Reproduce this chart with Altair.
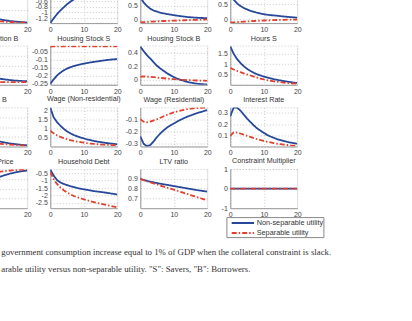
import altair as alt
import pandas as pd

steps = list(range(21))
SERIES = ["Non-separable utility", "Separable utility"]
BLUE = "#27489a"
RED = "#e2402c"

# ---- impulse responses (deviations), quarters 0..20 ----
# row 1
r1a_ns = [1.4, 1.15, 0.95, 0.78, 0.64, 0.53, 0.44, 0.36, 0.3, 0.25, 0.21, 0.17, 0.14, 0.115, 0.095, 0.078, 0.064, 0.052, 0.042, 0.034, 0.026]
r1a_sep = [0.6, 0.49, 0.41, 0.34, 0.28, 0.23, 0.19, 0.16, 0.13, 0.11, 0.09, 0.08, 0.067, 0.056, 0.047, 0.04, 0.034, 0.029, 0.025, 0.021, 0.018]
r1b_ns = [-1.37, -1.21, -1.06, -0.93, -0.82, -0.71, -0.62, -0.54, -0.47, -0.41, -0.36, -0.31, -0.27, -0.23, -0.2, -0.17, -0.15, -0.13, -0.11, -0.095, -0.08]
r1b_sep = [-0.2, -0.19, -0.18, -0.17, -0.16, -0.15, -0.14, -0.13, -0.12, -0.11, -0.1, -0.09, -0.08, -0.07, -0.065, -0.06, -0.055, -0.05, -0.045, -0.04, -0.035]
r1c_ns = [0.8, 0.62, 0.49, 0.39, 0.33, 0.29, 0.255, 0.227, 0.205, 0.185, 0.165, 0.145, 0.13, 0.115, 0.1, 0.09, 0.08, 0.072, 0.066, 0.061, 0.057]
r1c_sep = [-0.09, -0.085, -0.078, -0.07, -0.063, -0.056, -0.05, -0.044, -0.039, -0.034, -0.03, -0.025, -0.02, -0.016, -0.012, -0.008, -0.004, 0.0, 0.004, 0.008, 0.012]
r1d_ns = [0.85, 0.66, 0.54, 0.45, 0.385, 0.335, 0.29, 0.255, 0.225, 0.198, 0.176, 0.16, 0.147, 0.135, 0.125, 0.112, 0.1, 0.09, 0.08, 0.07, 0.062]
r1d_sep = [-0.1, -0.095, -0.088, -0.08, -0.072, -0.064, -0.057, -0.05, -0.044, -0.038, -0.033, -0.028, -0.024, -0.02, -0.016, -0.013, -0.01, -0.007, -0.005, -0.003, -0.001]
# row 2
cons_b_ns = [0.9, 0.75, 0.63, 0.53, 0.45, 0.39, 0.34, 0.3, 0.26, 0.23, 0.2, 0.18, 0.155, 0.14, 0.13, 0.12, 0.11, 0.105, 0.1, 0.095, 0.09]
cons_b_sep = [0.35, 0.3, 0.25, 0.21, 0.18, 0.15, 0.13, 0.11, 0.095, 0.085, 0.078, 0.072, 0.068, 0.067, 0.067, 0.067, 0.066, 0.066, 0.066, 0.066, 0.066]
hs_s_ns = [-0.25, -0.222, -0.198, -0.18, -0.166, -0.155, -0.146, -0.139, -0.133, -0.128, -0.124, -0.12, -0.116, -0.113, -0.11, -0.107, -0.104, -0.101, -0.099, -0.097, -0.095]
hs_s_sep = [-0.017, -0.0165, -0.016, -0.016, -0.016, -0.016, -0.016, -0.016, -0.016, -0.016, -0.016, -0.016, -0.016, -0.016, -0.016, -0.016, -0.016, -0.016, -0.016, -0.016, -0.016]
hs_b_ns = [0.484, 0.42, 0.36, 0.31, 0.255, 0.205, 0.165, 0.13, 0.095, 0.066, 0.04, 0.018, 0.0, -0.015, -0.03, -0.041, -0.05, -0.057, -0.062, -0.066, -0.069]
hs_b_sep = [0.048, 0.05, 0.047, 0.043, 0.038, 0.033, 0.028, 0.023, 0.018, 0.013, 0.009, 0.005, 0.002, -0.001, -0.004, -0.006, -0.008, -0.01, -0.012, -0.013, -0.015]
hours_s_ns = [1.85, 1.5, 1.25, 1.06, 0.9, 0.77, 0.67, 0.58, 0.51, 0.45, 0.4, 0.35, 0.31, 0.27, 0.24, 0.21, 0.18, 0.155, 0.13, 0.105, 0.085]
hours_s_sep = [0.82, 0.74, 0.67, 0.61, 0.55, 0.5, 0.45, 0.4, 0.35, 0.3, 0.26, 0.225, 0.195, 0.17, 0.145, 0.125, 0.105, 0.09, 0.075, 0.062, 0.05]
# row 3
hours_b_ns = [0.95, 0.8, 0.68, 0.57, 0.48, 0.41, 0.35, 0.3, 0.25, 0.21, 0.18, 0.15, 0.125, 0.105, 0.09, 0.076, 0.064, 0.054, 0.045, 0.037, 0.03]
hours_b_sep = [0.45, 0.38, 0.32, 0.27, 0.23, 0.195, 0.165, 0.14, 0.12, 0.1, 0.088, 0.077, 0.068, 0.06, 0.053, 0.046, 0.04, 0.035, 0.03, 0.026, 0.022]
wage_c_ns = [2.15, 1.62, 1.36, 1.16, 0.99, 0.85, 0.74, 0.65, 0.58, 0.515, 0.46, 0.41, 0.365, 0.325, 0.29, 0.26, 0.23, 0.205, 0.182, 0.162, 0.145]
wage_c_sep = [0.88, 0.74, 0.63, 0.55, 0.48, 0.42, 0.37, 0.33, 0.29, 0.26, 0.23, 0.2, 0.18, 0.16, 0.145, 0.13, 0.12, 0.11, 0.1, 0.09, 0.085]
wage_h_ns = [-0.24, -0.3, -0.32, -0.31, -0.28, -0.245, -0.215, -0.19, -0.168, -0.15, -0.135, -0.12, -0.105, -0.092, -0.08, -0.07, -0.06, -0.05, -0.042, -0.034, -0.027]
wage_h_sep = [-0.1, -0.12, -0.125, -0.12, -0.11, -0.1, -0.088, -0.076, -0.065, -0.054, -0.045, -0.037, -0.03, -0.024, -0.019, -0.015, -0.012, -0.009, -0.007, -0.006, -0.005]
rate_ns = [0.27, 0.345, 0.345, 0.32, 0.285, 0.25, 0.22, 0.19, 0.165, 0.145, 0.125, 0.108, 0.094, 0.082, 0.071, 0.062, 0.054, 0.047, 0.041, 0.036, 0.031]
rate_sep = [0.1, 0.13, 0.128, 0.12, 0.11, 0.1, 0.09, 0.08, 0.071, 0.063, 0.055, 0.048, 0.042, 0.036, 0.031, 0.027, 0.023, 0.02, 0.017, 0.015, 0.013]
# row 4
price_ns = [-0.9, -0.8, -0.71, -0.63, -0.56, -0.5, -0.44, -0.39, -0.34, -0.3, -0.26, -0.22, -0.19, -0.16, -0.135, -0.11, -0.09, -0.072, -0.056, -0.044, -0.034]
price_sep = [-0.5, -0.43, -0.37, -0.32, -0.27, -0.23, -0.2, -0.17, -0.14, -0.12, -0.1, -0.08, -0.065, -0.052, -0.042, -0.033, -0.025, -0.018, -0.012, -0.008, -0.005]
debt_ns = [-0.25, -0.66, -0.96, -1.12, -1.22, -1.3, -1.37, -1.43, -1.49, -1.54, -1.58, -1.62, -1.66, -1.7, -1.73, -1.76, -1.79, -1.82, -1.86, -1.89, -1.93]
debt_sep = [-0.43, -0.9, -1.22, -1.45, -1.64, -1.8, -1.92, -2.03, -2.12, -2.19, -2.25, -2.32, -2.38, -2.44, -2.5, -2.55, -2.6, -2.65, -2.7, -2.75, -2.8]
ltv_ns = [0.9, 0.89, 0.88, 0.872, 0.865, 0.858, 0.851, 0.845, 0.839, 0.833, 0.827, 0.821, 0.815, 0.809, 0.803, 0.797, 0.791, 0.785, 0.78, 0.775, 0.77]
ltv_sep = [0.9, 0.888, 0.876, 0.865, 0.854, 0.843, 0.832, 0.821, 0.81, 0.8, 0.79, 0.779, 0.768, 0.757, 0.746, 0.735, 0.724, 0.713, 0.702, 0.691, 0.68]
mult_ns = [0.0] * 21
mult_sep = [0.0] * 21

caption_1 = "government consumption increase equal to 1% of GDP when the collateral constraint is slack."
caption_2 = 'arable utility versus non-separable utility. "S": Savers, "B": Borrowers.'

PW, PH = 67, 39


def panel(ns, sep, ydom, yticks, title=None, ylabels=True, title_dy=0):
    df = pd.DataFrame({
        "t": steps * 2,
        "v": ns + sep,
        "series": [SERIES[0]] * 21 + [SERIES[1]] * 21,
    })
    leg = alt.Legend(title=None, orient="none", legendX=266.1, legendY=233.0)
    ch = alt.Chart(df).mark_line(strokeWidth=1.8, clip=True).encode(
        x=alt.X("t:Q", scale=alt.Scale(domain=[0, 20], nice=False, zero=False),
                axis=alt.Axis(values=[0, 10, 20], title=None)),
        y=alt.Y("v:Q", scale=alt.Scale(domain=ydom, nice=False, zero=False),
                axis=alt.Axis(values=yticks, title=None, labels=ylabels,
                              labelExpr="'' + datum.value")),
        color=alt.Color("series:N", scale=alt.Scale(domain=SERIES, range=[BLUE, RED]), legend=leg),
        strokeDash=alt.StrokeDash("series:N",
                                  scale=alt.Scale(domain=SERIES, range=[[1, 0], [5, 2, 1.5, 2]]),
                                  legend=leg),
    )
    props = {"width": PW, "height": PH}
    if title:
        props["title"] = alt.TitleParams(title, frame="group", anchor="middle", dy=title_dy)
    return ch.properties(**props)


cap_df = pd.DataFrame({"a": [caption_1], "b": [caption_2]})
cap_style = dict(align="left", baseline="middle", font="Liberation Serif", fontSize=8.8, color="#333")
caption = alt.layer(
    alt.Chart(cap_df).mark_text(**cap_style).encode(text="a:N", x=alt.value(41), y=alt.value(83.3)),
    alt.Chart(cap_df).mark_text(**cap_style).encode(text="b:N", x=alt.value(41), y=alt.value(99.6)),
)

panels = [
    panel(r1a_ns, r1a_sep, [0, 1.5], [0.5, 1.0], ylabels=False),
    panel(r1b_ns, r1b_sep, [-1.375, 0], [-1.2, -1, -0.8, -0.6, -0.4, -0.2]),
    panel(r1c_ns, r1c_sep, [-0.118, 1.27], [0, 0.5, 1]),
    panel(r1d_ns, r1d_sep, [-0.12, 1.18], [0, 0.5, 1]),
    panel(cons_b_ns, cons_b_sep, [0, 1], [0.25, 0.5, 0.75], "Consumption B", ylabels=False),
    panel(hs_s_ns, hs_s_sep, [-0.256, -0.0125], [-0.25, -0.2, -0.15, -0.1, -0.05], "Housing Stock S"),
    panel(hs_b_ns, hs_b_sep, [-0.073, 0.498], [0, 0.2, 0.4], "Housing Stock B"),
    panel(hours_s_ns, hours_s_sep, [0, 1.885], [0.5, 1, 1.5], "Hours S"),
    panel(hours_b_ns, hours_b_sep, [0, 1], [0.25, 0.5, 0.75], "Hours B", ylabels=False),
    panel(wage_c_ns, wage_c_sep, [0.02, 2.16], [0.5, 1, 1.5, 2], "Wage (Non-residential)"),
    panel(wage_h_ns, wage_h_sep, [-0.322, -0.005], [-0.3, -0.2, -0.1], "Wage (Residential)"),
    panel(rate_ns, rate_sep, [0.007, 0.346], [0.1, 0.2, 0.3], "Interest Rate"),
    alt.layer(panel(price_ns, price_sep, [-1, 0], [-0.75, -0.5, -0.25], "House Price", ylabels=False),
              caption),
    panel(debt_ns, debt_sep, [-2.85, -0.23], [-2.5, -2, -1.5, -1, -0.5], "Household Debt"),
    panel(ltv_ns, ltv_sep, [0.6, 1.0], [0.7, 0.8, 0.9], "LTV ratio"),
    panel(mult_ns, mult_sep, [-1, 1], [-1, 0, 1], "Constraint Multiplier", title_dy=3.5),
]

chart = alt.concat(
    *panels, columns=4, spacing={"row": 22.7, "column": 23}, bounds="flush"
).resolve_scale(
    x="independent", y="independent"
).properties(
    padding={"left": -42.7, "top": -16.9, "right": 0, "bottom": 0},
    background="white",
).configure_view(
    stroke="#bbbbbb", strokeDash=[1, 2], strokeWidth=0.8
).configure_axis(
    domainColor="#9a9a9a", domainWidth=1, ticks=False, tickSize=0,
    labelFont="Liberation Sans", labelFontSize=7, labelColor="#444444",
    labelPadding=2.5, labelFlush=False, labelOverlap=False,
    gridColor="#bbbbbb", gridDash=[1, 2], gridWidth=0.8,
).configure_axisY(
    labelPadding=3
).configure_title(
    font="Liberation Sans", fontSize=7.2, fontWeight="normal", color="#333333", offset=4
).configure_legend(
    labelFont="Liberation Sans", labelFontSize=7.3, labelColor="#333333",
    symbolType="M-2.23,0H2.23", symbolSize=100, symbolStrokeWidth=2,
    symbolOffset=10.45, labelOffset=7.85,
    strokeColor="#888888", fillColor="white", padding=0, rowPadding=0,
)

chart.save("out.html", embed_options={"renderer": "svg", "actions": False})
